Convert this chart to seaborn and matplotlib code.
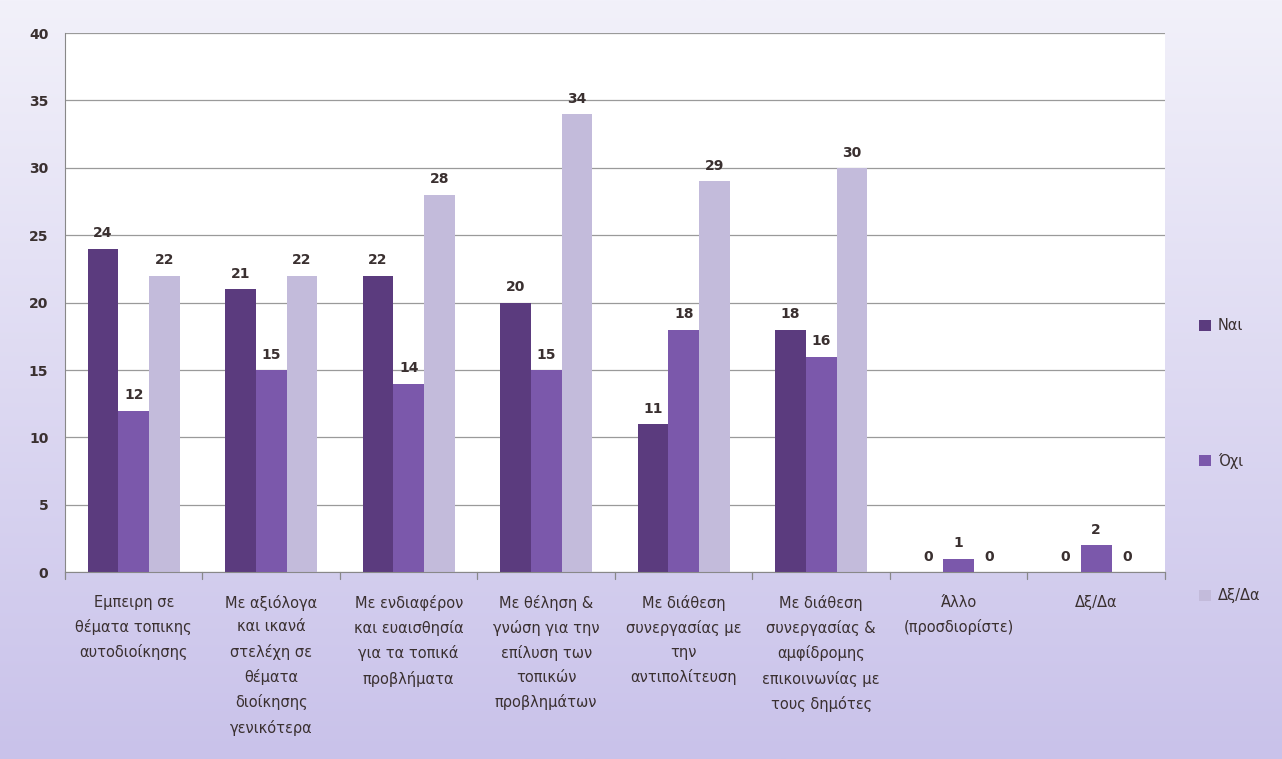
import numpy as np
import pandas as pd
import matplotlib
matplotlib.use('Agg')
import matplotlib.pyplot as plt
import seaborn as sns
from matplotlib.patches import Patch

# data
categories = [
    "Εμπειρη σε\nθέματα τοπικης\nαυτοδιοίκησης",
    "Με αξιόλογα\nκαι ικανά\nστελέχη σε\nθέματα\nδιοίκησης\nγενικότερα",
    "Με ενδιαφέρον\nκαι ευαισθησία\nγια τα τοπικά\nπροβλήματα",
    "Με θέληση &\nγνώση για την\nεπίλυση των\nτοπικών\nπροβλημάτων",
    "Με διάθεση\nσυνεργασίας με\nτην\nαντιπολίτευση",
    "Με διάθεση\nσυνεργασίας &\nαμφίδρομης\nεπικοινωνίας με\nτους δημότες",
    "Άλλο\n(προσδιορίστε)",
    "Δξ/Δα",
]
series = ["Ναι", "Όχι", "Δξ/Δα"]
nai = [24, 21, 22, 20, 11, 18, 0, 0]
oxi = [12, 15, 14, 15, 18, 16, 1, 2]
dkda = [22, 22, 28, 34, 29, 30, 0, 0]
y_ticks = [0, 5, 10, 15, 20, 25, 30, 35, 40]

colors = ["#5b3b7e", "#7b58ab", "#c3bbdb"]

df = pd.DataFrame({
    "cat": categories * 3,
    "series": [s for s in series for _ in categories],
    "value": nai + oxi + dkda,
})

sns.set_style("white")
plt.rcParams['font.family'] = ['DejaVu Sans']

fig = plt.figure(figsize=(12.82, 7.59), dpi=100)

# lavender gradient background
bg = fig.add_axes([0, 0, 1, 1], zorder=-10)
grad = np.linspace(0, 1, 256).reshape(-1, 1)
cmap = matplotlib.colors.LinearSegmentedColormap.from_list("bg", ["#f2f1fa", "#c9c2ea"])
bg.imshow(grad, aspect='auto', cmap=cmap, extent=[0, 1, 0, 1], origin='upper')
bg.axis('off')

ax = fig.add_axes([0.0507, 0.246, 0.858, 0.7105])
ax.set_facecolor("white")
sns.barplot(data=df, x="cat", y="value", hue="series", palette=colors,
            width=0.67, gap=0, ax=ax, legend=False, saturation=1,
            edgecolor="none")

for cont in ax.containers:
    ax.bar_label(cont, labels=[f"{int(v)}" for v in cont.datavalues],
                 padding=6, fontsize=10, fontweight='bold', color="#3a3030")

ax.set_ylim(0, 40)
ax.set_xlim(-0.5, len(categories) - 0.5)
ax.set_yticks(y_ticks)
ax.set_yticklabels([str(t) for t in y_ticks], fontsize=10, fontweight='bold', color="#3a3030")
ax.yaxis.grid(True, color="#9a9a9a", linewidth=0.9)
ax.set_axisbelow(True)
ax.set_xlabel("")
ax.set_ylabel("")
ax.tick_params(axis='x', length=0, pad=16)
ax.set_xticks(range(len(categories)))
ax.set_xticklabels(categories, fontsize=10.5, color="#3a3030", linespacing=1.72, va='top')
for x in np.arange(-0.5, len(categories), 1):
    ax.plot([x, x], [0, -0.5], color="#888888", lw=0.9, clip_on=False)
ax.tick_params(axis='y', length=4, color="#888888", pad=8)
for side in ["top", "right"]:
    ax.spines[side].set_visible(False)
ax.spines["left"].set_color("#888888")
ax.spines["bottom"].set_color("#888888")

handles = [Patch(facecolor=c, edgecolor='none') for c in colors]
fig.legend(handles, series, loc='upper left', bbox_to_anchor=(0.925, 0.598),
           frameon=False, fontsize=10.5, labelspacing=8.2, handlelength=0.8,
           handleheight=0.8, handletextpad=0.5, labelcolor="#3a3030")

fig.savefig("out.png", dpi=100)
